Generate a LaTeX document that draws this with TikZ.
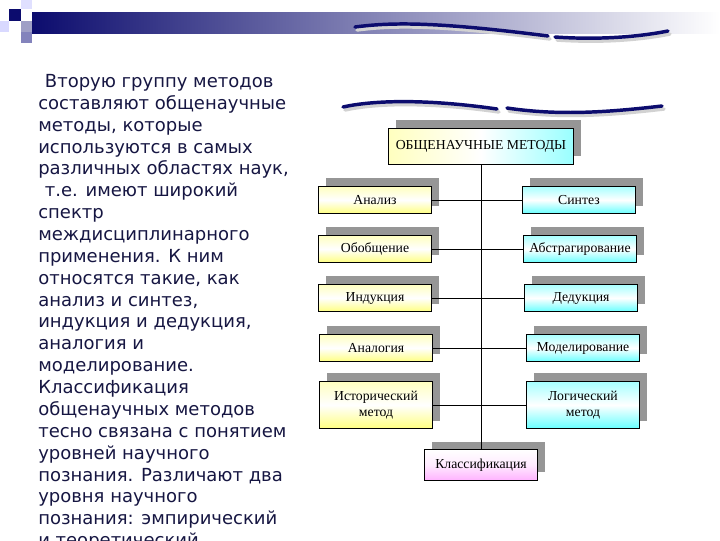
\documentclass[tikz,border=0pt]{standalone}
\usepackage{fontspec}
\setmainfont{DejaVu Sans}
\newfontfamily\boxfont{Liberation Serif}
\usetikzlibrary{shadows}

\definecolor{navy}{RGB}{12,12,110}
\definecolor{textnavy}{RGB}{22,22,66}
\definecolor{shadowgray}{RGB}{150,150,150}

\begin{document}
\begin{tikzpicture}[
    x=0.75pt, y=-0.75pt,
    box/.style={draw=black, line width=0.7pt, align=center, inner sep=1pt,
      font=\boxfont\fontsize{10.3}{12.5}\selectfont,
      minimum width=84.75pt, minimum height=20.5pt,
      general shadow={shadow xshift=5.25pt, shadow yshift=6pt, fill=shadowgray}},
    leftbox/.style={box, top color=yellow!25, bottom color=yellow!50, middle color=white},
    rightbox/.style={box, top color=cyan!35, bottom color=cyan!60, middle color=white},
    twoline/.style={minimum height=35.5pt},
    link/.style={line width=0.75pt},
    wave/.style={navy, line width=2.6pt, line cap=round},
    waveshade/.style={gray!35, line width=2.6pt, line cap=round}
  ]
  \useasboundingbox (0,0) rectangle (720,540);

  % top bar and squares
  \shade[left color=navy, right color=white] (32,12) rectangle (720,33);
  \fill[navy] (9,9) rectangle (21,21);
  \fill[blue!12] (21,0) rectangle (32,9);
  \fill[blue!15] (0,21) rectangle (9,32);
  \fill[blue!25!gray!60] (21,21) rectangle (32,32);
  \fill[blue!30!gray!75] (21,32) rectangle (32,43);

  % waves
  \draw[waveshade] (357,30) .. controls (395,25) and (440,25) .. (550,39);
  \draw[waveshade] (557,40) .. controls (600,43) and (640,40) .. (670,34);
  \draw[wave] (355,27) .. controls (393,22) and (438,22) .. (548,36);
  \draw[wave] (555,37) .. controls (598,40) and (638,37) .. (668,31);

  \draw[waveshade] (345,110) .. controls (372,104) and (422,101) .. (499,112);
  \draw[waveshade] (509,111) .. controls (562,119) and (612,115) .. (664,109);
  \draw[wave] (343,107) .. controls (370,101) and (420,98) .. (497,109);
  \draw[wave] (507,108) .. controls (560,116) and (610,112) .. (662,106);

  % text
  \node[anchor=north west, align=left, inner sep=0pt, text=textnavy,
    font=\fontsize{13.5}{16.4}\selectfont] (intro) at (38,74)
  {\hspace{5pt}Вторую группу методов\\
   составляют общенаучные\\
   методы, которые\\
   используются в самых\\
   различных областях наук,\\
   \hspace{5pt}т.е. имеют широкий\\
   спектр\\
   междисциплинарного\\
   применения. К ним\\
   относятся такие, как\\
   анализ и синтез,\\
   индукция и дедукция,\\
   аналогия и\\
   моделирование.\\
   Классификация\\
   общенаучных методов\\
   тесно связана с понятием\\
   уровней научного\\
   познания. Различают два\\
   уровня научного\\
   познания: эмпирический\\
   и теоретический.};

  % scheme
  \node[box, minimum width=138.75pt, minimum height=27pt,
    left color=yellow!25, right color=cyan!40, middle color=white] (title) at (481,146)
    {ОБЩЕНАУЧНЫЕ МЕТОДЫ};

  \node[leftbox] (analiz) at (375,200) {Анализ};
  \node[leftbox] (obobsh) at (375,249) {Обобщение};
  \node[leftbox] (indukc) at (375,298) {Индукция};
  \node[leftbox] (analog) at (376,348) {Аналогия};
  \node[leftbox, twoline] (istor) at (376,405) {Исторический\\метод};

  \node[rightbox] (sintez) at (579,200) {Синтез};
  \node[rightbox] (abstr) at (580,249) {Абстрагирование};
  \node[rightbox] (dedukc) at (581,298) {Дедукция};
  \node[rightbox] (model) at (583,348) {Моделирование};
  \node[rightbox, twoline] (logich) at (583,405) {Логический\\метод};

  \node[box, minimum height=23pt, top color=white, bottom color=magenta!30,
    middle color=magenta!8] (klass) at (481,465) {Классификация};

  \draw[link] (title) -- (klass);
  \foreach \l/\r in {analiz/sintez, obobsh/abstr, indukc/dedukc,
                     analog/model, istor/logich}
    \draw[link] (\l) -- (\r);
\end{tikzpicture}
\end{document}
